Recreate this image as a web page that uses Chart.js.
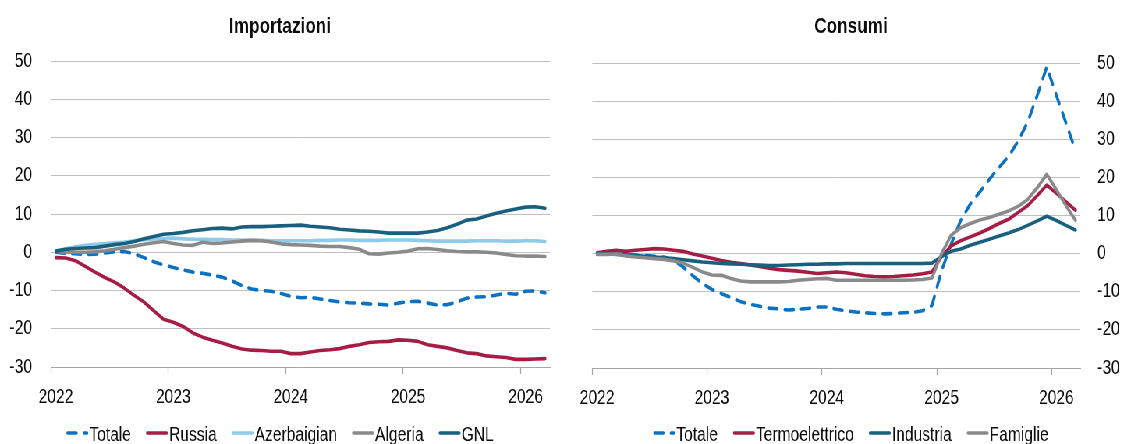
<!DOCTYPE html>
<html>
<head>
<meta charset="utf-8">
<script src="https://cdn.jsdelivr.net/npm/chart.js@4.4.1/dist/chart.umd.min.js"></script>
<style>
  html, body { margin: 0; padding: 0; background: #ffffff; width: 1121px; height: 444px; overflow: hidden; }
  /* both panels sit on a wide stage that is narrowed horizontally,
     which gives the condensed lettering of the figure */
  #stage { position: absolute; left: 0; top: 0; height: 444px; transform-origin: 0 0; }
  #stage canvas { position: absolute; top: 0; }
</style>
</head>
<body>
<div id="stage">
  <canvas id="imp" height="444"></canvas>
  <canvas id="con" height="444"></canvas>
</div>
<script>
// Monthly categories, January 2022 - March 2026
const months = [
  '2022-01','2022-02','2022-03','2022-04','2022-05','2022-06','2022-07','2022-08','2022-09','2022-10','2022-11','2022-12',
  '2023-01','2023-02','2023-03','2023-04','2023-05','2023-06','2023-07','2023-08','2023-09','2023-10','2023-11','2023-12',
  '2024-01','2024-02','2024-03','2024-04','2024-05','2024-06','2024-07','2024-08','2024-09','2024-10','2024-11','2024-12',
  '2025-01','2025-02','2025-03','2025-04','2025-05','2025-06','2025-07','2025-08','2025-09','2025-10','2025-11','2025-12',
  '2026-01','2026-02','2026-03'
];
const yearTicks = ['2022', '2023', '2024', '2025', '2026'];
const yTicks = { min: -30, max: 50, step: 10 };

// Importazioni
const impTotale = [0, -0.3, -0.4, -0.6, -0.5, -0.2, 0.1, 0.2, -0.4, -1.4, -2.5, -3.3,
  -4.0, -4.6, -5.2, -5.5, -6.0, -6.5, -7.5, -8.7, -9.6, -10.0, -10.2, -10.8,
  -11.5, -11.9, -11.8, -12.2, -12.6, -13.0, -13.2, -13.3, -13.5, -13.6, -13.8, -13.3,
  -12.9, -12.8, -13.3, -13.8, -13.7, -13.0, -12.0, -11.7, -11.6, -11.2, -10.7, -11.0,
  -10.2, -10.1, -10.6];
const impRussia = [-1.4, -1.5, -2.2, -3.7, -5.2, -6.6, -7.8, -9.4, -11.3, -13.0, -15.3, -17.5,
  -18.3, -19.4, -21.1, -22.2, -23.0, -23.7, -24.6, -25.3, -25.6, -25.7, -25.9, -25.9,
  -26.5, -26.5, -26.1, -25.7, -25.5, -25.2, -24.6, -24.2, -23.6, -23.4, -23.3, -22.9,
  -23.0, -23.3, -24.2, -24.6, -25.0, -25.7, -26.3, -26.5, -27.1, -27.3, -27.5, -28.0,
  -28.0, -27.9, -27.8];
const impAzerbaigian = [0.3, 0.9, 1.4, 1.8, 2.1, 2.3, 2.5, 2.7, 3.0, 3.3, 3.5, 3.6,
  3.7, 3.5, 3.4, 3.4, 3.3, 3.3, 3.2, 3.2, 3.1, 3.1, 3.0, 3.0,
  3.0, 3.0, 3.0, 3.1, 3.1, 3.2, 3.2, 3.1, 3.1, 3.1, 3.2, 3.2,
  3.2, 3.1, 3.0, 2.9, 2.9, 2.9, 2.9, 3.0, 3.0, 3.0, 2.9, 2.9,
  3.0, 3.0, 2.8];
const impAlgeria = [0.2, 0.1, 0.0, 0.0, 0.1, 0.4, 0.8, 1.2, 1.6, 2.1, 2.5, 2.8,
  2.3, 1.9, 1.8, 2.6, 2.3, 2.4, 2.7, 2.9, 3.1, 3.0, 2.7, 2.2,
  2.0, 1.9, 1.8, 1.6, 1.5, 1.5, 1.2, 0.8, -0.4, -0.5, -0.2, 0.0,
  0.3, 0.9, 1.0, 0.7, 0.4, 0.2, 0.1, 0.1, 0.0, -0.2, -0.6, -0.9,
  -1.0, -1.0, -1.1];
const impGNL = [0.3, 0.8, 1.0, 1.1, 1.2, 1.6, 2.0, 2.3, 2.8, 3.5, 4.1, 4.7,
  4.9, 5.2, 5.6, 5.9, 6.2, 6.3, 6.1, 6.6, 6.7, 6.7, 6.8, 6.9,
  7.0, 7.1, 6.8, 6.6, 6.4, 6.0, 5.8, 5.6, 5.5, 5.3, 5.0, 5.0,
  5.0, 5.0, 5.3, 5.7, 6.4, 7.3, 8.4, 8.7, 9.5, 10.2, 10.8, 11.3,
  11.8, 11.9, 11.5];

// Consumi
const conTotale = [0, -0.1, -0.2, -0.3, -0.4, -0.5, -0.7, -0.9, -1.8, -3.5, -5.8, -7.8,
  -9.4, -10.5, -11.5, -12.6, -13.3, -13.8, -14.3, -14.5, -14.8, -14.6, -14.4, -14.0,
  -14.0, -14.6, -15.0, -15.3, -15.5, -15.7, -15.8, -15.7, -15.5, -15.4, -15.0, -13.6,
  -4.5, 2.5, 8.7, 13.0, 16.2, 19.5, 22.6, 25.5, 29.5, 34.5, 41.5, 49.0,
  41.5, 34.3, 27.0];
const conTermoelettrico = [0.2, 0.6, 0.9, 0.6, 0.9, 1.1, 1.3, 1.2, 0.9, 0.6, -0.1, -0.6,
  -1.2, -1.8, -2.3, -2.6, -3.0, -3.4, -3.8, -4.2, -4.4, -4.6, -4.9, -5.2,
  -5.0, -4.8, -5.0, -5.4, -5.8, -6.0, -6.1, -6.0, -5.8, -5.6, -5.3, -4.8,
  -0.8, 2.0, 3.4, 4.4, 5.4, 6.6, 7.9, 9.0, 10.8, 12.6, 15.2, 18.0,
  15.8, 13.6, 11.4];
const conIndustria = [0.1, 0.0, -0.1, -0.3, -0.5, -0.7, -0.9, -1.1, -1.3, -1.6, -1.9, -2.2,
  -2.4, -2.6, -2.7, -2.8, -2.9, -3.0, -3.1, -3.1, -3.0, -2.9, -2.8, -2.8,
  -2.7, -2.7, -2.6, -2.6, -2.6, -2.6, -2.6, -2.6, -2.6, -2.6, -2.6, -2.5,
  -0.8, 0.6, 1.2, 2.2, 3.0, 3.8, 4.6, 5.4, 6.3, 7.4, 8.6, 9.8,
  8.7, 7.4, 6.2];
const conFamiglie = [-0.2, -0.2, -0.1, -0.6, -0.9, -1.1, -1.3, -1.5, -1.9, -2.5, -3.6, -4.8,
  -5.6, -5.7, -6.5, -7.2, -7.4, -7.4, -7.4, -7.4, -7.3, -7.0, -6.8, -6.6,
  -6.5, -7.0, -7.0, -7.0, -7.0, -7.0, -7.0, -7.0, -7.0, -6.9, -6.8, -6.4,
  0.0, 4.8, 6.8, 7.9, 8.8, 9.5, 10.3, 11.2, 12.4, 14.2, 17.3, 20.8,
  16.8, 12.6, 8.7];

const FONT = "'Liberation Sans', Arimo, Arial, sans-serif";
const TEXT = '#0d0d0d';
const COLORS = {
  blue: '#0b72c3',
  crimson: '#a61c45',
  sky: '#8fcbe9',
  grey: '#8a8a8a',
  teal: '#195f7e'
};

// Horizontal narrowing of the stage; layout below is given in page pixels
const S = 0.78;
const u = px => px / S;

const stage = document.getElementById('stage');
stage.style.width = u(1121) + 'px';
stage.style.transform = 'scaleX(' + S + ')';
const impCanvas = document.getElementById('imp');
const conCanvas = document.getElementById('con');
impCanvas.width = Math.round(u(560));
impCanvas.style.left = '0px';
conCanvas.width = Math.round(u(541));
conCanvas.style.left = u(580) + 'px';

Chart.defaults.font.family = FONT;
Chart.defaults.color = TEXT;

// Panel title and a compact line legend, centred on each canvas
const panelText = {
  id: 'panelText',
  afterDraw(chart, args, o) {
    const ctx = chart.ctx;
    const cx = chart.width / 2;
    ctx.save();
    ctx.fillStyle = TEXT;
    ctx.textBaseline = 'alphabetic';
    ctx.textAlign = 'center';
    ctx.font = 'bold ' + o.titleSize + 'px ' + FONT;
    ctx.fillText(o.title, cx, o.titleBaseline);

    ctx.font = o.legendSize + 'px ' + FONT;
    ctx.textAlign = 'left';
    const ds = chart.data.datasets;
    const widths = ds.map(d => o.sample + o.textGap + ctx.measureText(d.label).width);
    const total = widths.reduce((a, b) => a + b, 0) + o.itemGap * (ds.length - 1);
    let x = cx - total / 2;
    ds.forEach((d, i) => {
      const half = d.borderWidth / 2;
      ctx.beginPath();
      ctx.strokeStyle = d.borderColor;
      ctx.lineWidth = d.borderWidth;
      ctx.lineCap = 'round';
      ctx.setLineDash(d.borderDash || []);
      ctx.moveTo(x + half, o.legendLineY);
      ctx.lineTo(x + o.sample - half, o.legendLineY);
      ctx.stroke();
      ctx.setLineDash([]);
      ctx.fillText(d.label, x + o.sample + o.textGap, o.legendBaseline);
      x += widths[i] + o.itemGap;
    });
    ctx.restore();
  }
};

function series(label, data, color, dashed, order) {
  return {
    label: label,
    data: data,
    borderColor: color,
    backgroundColor: color,
    borderWidth: 3.6,
    borderDash: dashed ? [11, 10] : [],
    borderCapStyle: 'round',
    borderJoinStyle: 'round',
    pointRadius: 0,
    pointHoverRadius: 0,
    tension: 0,
    fill: false,
    order: order
  };
}

function makeChart(canvas, title, datasets, side, pad, axisWidth, labelGap) {
  return new Chart(canvas, {
    type: 'line',
    data: { labels: months, datasets: datasets },
    plugins: [panelText],
    options: {
      responsive: false,
      animation: false,
      devicePixelRatio: 1,
      layout: { padding: pad },
      plugins: {
        legend: { display: false },
        title: { display: false },
        tooltip: { enabled: false },
        panelText: {
          title: title,
          titleSize: 22,
          titleBaseline: 33,
          legendSize: 20,
          legendLineY: 433,
          legendBaseline: 441,
          sample: u(22),
          textGap: u(1),
          itemGap: u(15)
        }
      },
      scales: {
        x: {
          type: 'category',
          offset: true,
          grid: {
            offset: true,
            drawOnChartArea: false,
            drawTicks: true,
            tickLength: 7,
            tickWidth: 1.2,
            color: ctx => (ctx.index % 12 === 0 ? '#a6a6a6' : 'rgba(0,0,0,0)'),
            tickColor: ctx => (ctx.index % 12 === 0 ? '#a6a6a6' : 'rgba(0,0,0,0)')
          },
          border: { display: true, color: '#a6a6a6', width: 1 },
          ticks: {
            autoSkip: false,
            maxRotation: 0,
            minRotation: 0,
            padding: 11,
            color: TEXT,
            font: { size: 20 },
            callback: (v, i) => (i % 12 === 0 ? yearTicks[i / 12] : '')
          },
          afterFit: s => { s.paddingLeft = 0; s.paddingRight = 0; }
        },
        y: {
          position: side,
          min: yTicks.min,
          max: yTicks.max,
          grid: { color: '#bfbfbf', lineWidth: 1, drawTicks: false },
          border: { display: false },
          ticks: {
            stepSize: yTicks.step,
            padding: labelGap,
            color: TEXT,
            font: { size: 20 }
          },
          afterFit: s => { s.width = axisWidth; }
        }
      }
    }
  });
}

makeChart(impCanvas, 'Importazioni', [
  series('Totale', impTotale, COLORS.blue, true, 4),
  series('Russia', impRussia, COLORS.crimson, false, 3),
  series('Azerbaigian', impAzerbaigian, COLORS.sky, false, 2),
  series('Algeria', impAlgeria, COLORS.grey, false, 1),
  series('GNL', impGNL, COLORS.teal, false, 0)
], 'left', { left: 0, right: impCanvas.width - u(550), top: 61, bottom: 24 }, u(51), u(19));

makeChart(conCanvas, 'Consumi', [
  series('Totale', conTotale, COLORS.blue, true, 3),
  series('Termoelettrico', conTermoelettrico, COLORS.crimson, false, 2),
  series('Industria', conIndustria, COLORS.teal, false, 1),
  series('Famiglie', conFamiglie, COLORS.grey, false, 0)
], 'right', { left: u(12), right: 0, top: 63, bottom: 23 }, conCanvas.width - u(500), u(17));
</script>
</body>
</html>
